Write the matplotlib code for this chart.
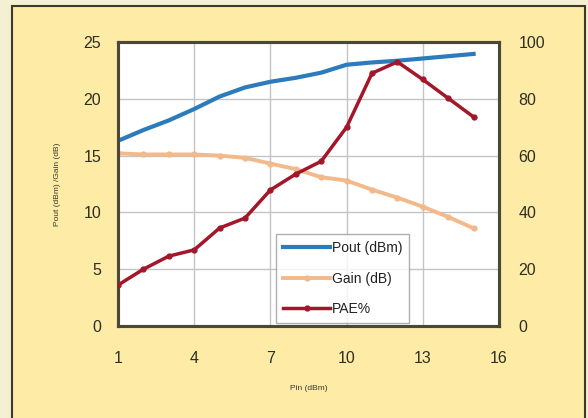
import matplotlib
matplotlib.use("Agg")
import matplotlib.pyplot as plt
from matplotlib.patches import Rectangle

pin = [1, 2, 3, 4, 5, 6, 7, 8, 9, 10, 11, 12, 13, 14, 15]
pout = [16.3, 17.25, 18.1, 19.1, 20.2, 21.0, 21.5, 21.85, 22.3, 23.0, 23.2, 23.35, 23.55, 23.75, 23.95]
gain = [15.2, 15.1, 15.1, 15.1, 15.0, 14.8, 14.3, 13.8, 13.1, 12.8, 12.0, 11.3, 10.5, 9.6, 8.6]
pae = [14.4, 20.0, 24.6, 26.8, 34.5, 38.0, 47.9, 53.5, 58.0, 70.0, 89.0, 93.0, 86.8, 80.2, 73.6]

x_ticks = [1, 4, 7, 10, 13, 16]
left_ticks = [0, 5, 10, 15, 20, 25]
right_ticks = [0, 20, 40, 60, 80, 100]

plt.rcParams['font.family'] = ['Liberation Sans', 'DejaVu Sans']

fig = plt.figure(figsize=(5.88, 4.18), dpi=100)
fig.patch.set_facecolor('#f4f0d4')
fig.patches.append(Rectangle((12 / 588, -0.05), 573 / 588, 1.05 - 6 / 418,
                             transform=fig.transFigure, facecolor='#fdeba6',
                             edgecolor='#3c3a2c', linewidth=1.5, zorder=-10))

ax = fig.add_axes([118 / 588, 1 - 326 / 418, 381 / 588, 284 / 418])
ax2 = ax.twinx()
ax.set_facecolor('white')

ax.plot(pin, pout, color='#2b7bbd', linewidth=3, label='Pout (dBm)', zorder=3)
ax.plot(pin, gain, color='#f2b98a', linewidth=2.8, marker='o', markersize=3.5,
        label='Gain (dB)', zorder=3)
ax2.plot(pin, pae, color='#a3172a', linewidth=2.5, marker='o', markersize=3.5,
         label='PAE%', zorder=3)

ax.set_xlim(1, 16)
ax.set_ylim(0, 25)
ax2.set_ylim(0, 100)
ax.set_xticks(x_ticks)
ax.set_yticks(left_ticks)
ax2.set_yticks(right_ticks)
ax.grid(True, color='#c4c4c4', linewidth=1)
ax.set_axisbelow(True)

ax.tick_params(axis='y', length=0, pad=12, labelsize=11.5, labelcolor='#2e2e22')
ax.tick_params(axis='x', length=0, pad=18, labelsize=11.5, labelcolor='#2e2e22')
ax2.tick_params(axis='y', length=0, pad=14, labelsize=11.5, labelcolor='#2e2e22')

for a in (ax, ax2):
    for s in a.spines.values():
        s.set_color('#4a4836')
        s.set_linewidth(2.2)

ax.set_xlabel('Pin (dBm)', fontsize=6, color='#3a3a2e', labelpad=14)
ax.set_ylabel('Pout (dBm) /Gain (dB)', fontsize=6, color='#3a3a2e', labelpad=16)

handles = ax.get_legend_handles_labels()[0] + ax2.get_legend_handles_labels()[0]
labels = [h.get_label() for h in handles]
leg = ax2.legend(handles, labels, loc='lower left', bbox_to_anchor=(0.415, 0.01),
                 fontsize=10, frameon=True, fancybox=False, handlelength=3.4,
                 handletextpad=0.1, borderpad=0.5, labelspacing=1.2,
                 borderaxespad=0)
leg.get_frame().set_edgecolor('#9a9a9a')
leg.get_frame().set_linewidth(1)
for t in leg.get_texts():
    t.set_color('#222222')

fig.savefig('out.png', dpi=100, facecolor=fig.get_facecolor())
